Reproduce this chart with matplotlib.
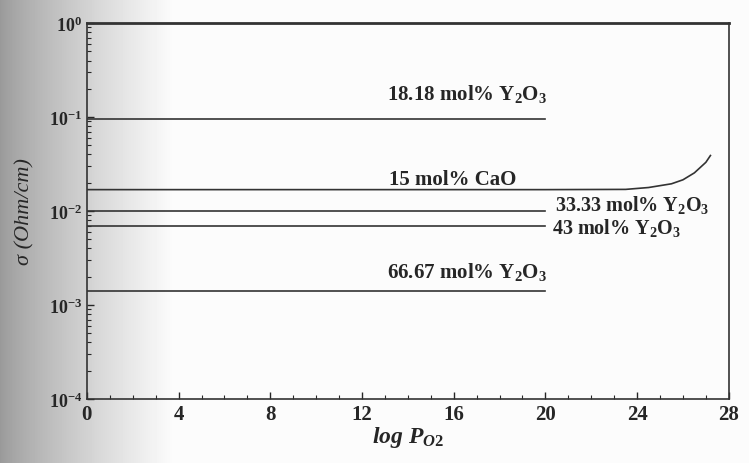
import numpy as np
import matplotlib.pyplot as plt
from matplotlib.ticker import MultipleLocator, LogLocator, NullFormatter

plt.rcParams['font.family'] = ['Liberation Serif', 'DejaVu Serif']
plt.rcParams['font.weight'] = 'bold'
plt.rcParams['mathtext.fontset'] = 'custom'
plt.rcParams['mathtext.rm'] = 'Liberation Serif:bold'
plt.rcParams['mathtext.bf'] = 'Liberation Serif:bold'
plt.rcParams['mathtext.it'] = 'Liberation Serif:bold:italic'

# flat conductivity lines, log P_O2 from 0 to 20
flat_x = [0, 20]
y2o3_1818 = 0.096
y2o3_3333 = 0.0099
y2o3_43 = 0.0070
y2o3_6667 = 0.00141

# 15 mol% CaO, rises at high log P_O2
cao_x = [0, 20, 23.5, 24.5, 25.5, 26.0, 26.5, 27.0, 27.2]
cao_y = [0.0169, 0.0169, 0.0170, 0.0178, 0.0195, 0.0215, 0.0255, 0.0330, 0.0390]

line_col = '#333333'
text_col = '#262626'

fig = plt.figure(figsize=(7.49, 4.64), dpi=100)

# scanned page shading on the left
bg = fig.add_axes([0, 0, 1, 1], zorder=-10)
grad = np.ones((2, 749))
xs = np.arange(749)
grad[:] = np.clip(0.6 + 0.4 * (xs / 180.0) ** 0.8, 0, 0.985)
bg.imshow(grad, cmap='gray', vmin=0, vmax=1, aspect='auto', extent=[0, 1, 0, 1])
bg.axis('off')

ax = fig.add_axes([0.116, 0.138, 0.857, 0.810])
ax.patch.set_alpha(0)
ax.set_yscale('log')
ax.set_xlim(0, 28)
ax.set_ylim(1e-4, 1)

for v in [y2o3_1818, y2o3_3333, y2o3_43, y2o3_6667]:
    ax.plot(flat_x, [v, v], color=line_col, lw=1.2)
ax.plot(cao_x, cao_y, color=line_col, lw=1.2)

fs = 15
ax.text(13.1, 0.156, r'18.18 mol% Y$_2$O$_3$', fontsize=fs, color=text_col)
ax.text(13.2, 0.0196, '15 mol% CaO', fontsize=fs, color=text_col)
ax.text(20.4, 0.0103, r'33.33 mol% Y$_2$O$_3$', fontsize=14.5, color=text_col)
ax.text(20.3, 0.0058, r'43 mol% Y$_2$O$_3$', fontsize=14.5, color=text_col)
ax.text(13.1, 0.0020, r'66.67 mol% Y$_2$O$_3$', fontsize=fs, color=text_col)

ax.xaxis.set_major_locator(MultipleLocator(4))
ax.xaxis.set_minor_locator(MultipleLocator(1))
ax.yaxis.set_minor_locator(LogLocator(base=10, subs=np.arange(2, 10), numticks=20))
ax.yaxis.set_minor_formatter(NullFormatter())
ax.set_yticks([1e-4, 1e-3, 1e-2, 1e-1, 1])
ax.set_yticklabels([r'10$^{-4}$', r'10$^{-3}$', r'10$^{-2}$', r'10$^{-1}$', r'10$^{0}$'])

ax.tick_params(which='both', direction='in', colors=text_col)
ax.tick_params(axis='x', labelsize=15)
ax.tick_params(axis='y', labelsize=13)
ax.tick_params(which='major', length=5, width=1)
ax.tick_params(which='minor', length=3, width=0.8)
for sp in ax.spines.values():
    sp.set_color(line_col)
    sp.set_linewidth(1.2)
ax.spines['top'].set_linewidth(2)

ax.set_xlabel(r'$log\ P_{\mathit{O2}}$', fontsize=17, color=text_col, labelpad=0)
ax.set_ylabel('σ (Ohm/cm)', fontsize=16, style='italic', color=text_col, labelpad=10)

fig.savefig('out.png', dpi=100)
